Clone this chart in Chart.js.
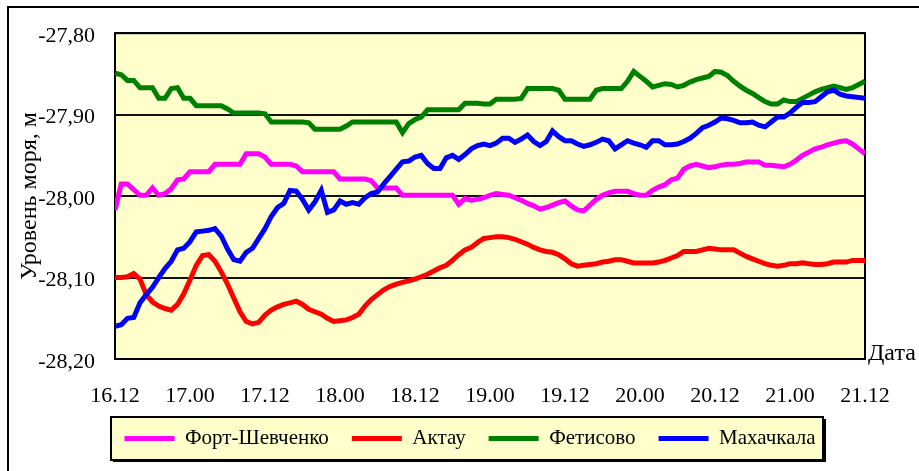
<!DOCTYPE html>
<html><head><meta charset="utf-8">
<script src="https://cdn.jsdelivr.net/npm/chart.js@4.4.1/dist/chart.umd.min.js"></script>
<style>html,body{margin:0;padding:0;background:#fff;font-family:"Liberation Serif",serif}canvas{display:block}</style>
</head><body>
<canvas id="c" width="919" height="471"></canvas>
<script>
// Hourly sea level, from 16.12 (16th, 12:00) to 21.12 (21st, 12:00)
const xTickLabels = ['16.12','17.00','17.12','18.00','18.12','19.00','19.12','20.00','20.12','21.00','21.12'];
const seriesNames = ['Форт-Шевченко','Актау','Фетисово','Махачкала'];
const seriesColors = ['#FF00FF','#FF0000','#008000','#0000FF'];

const fortShevchenko = [
-28.017,-27.985,-27.985,-27.992,-27.999,-27.999,-27.990,-27.999,-27.997,-27.991,
-27.980,-27.979,-27.970,-27.970,-27.970,-27.970,-27.961,-27.961,-27.961,-27.961,
-27.961,-27.948,-27.948,-27.948,-27.952,-27.961,-27.961,-27.961,-27.961,-27.963,
-27.970,-27.970,-27.970,-27.970,-27.970,-27.970,-27.979,-27.979,-27.979,-27.979,
-27.979,-27.981,-27.990,-27.990,-27.990,-27.990,-27.999,-27.999,-27.999,-27.999,
-27.999,-27.999,-27.999,-27.999,-27.999,-28.010,-28.003,-28.005,-28.004,-28.002,
-27.999,-27.997,-27.998,-27.999,-28.002,-28.005,-28.009,-28.012,-28.016,-28.014,
-28.011,-28.008,-28.006,-28.012,-28.017,-28.018,-28.011,-28.004,-27.999,-27.996,
-27.994,-27.994,-27.994,-27.997,-27.999,-27.999,-27.993,-27.989,-27.986,-27.980,
-27.978,-27.967,-27.963,-27.961,-27.963,-27.965,-27.964,-27.962,-27.961,-27.961,
-27.960,-27.958,-27.958,-27.958,-27.962,-27.962,-27.963,-27.964,-27.961,-27.956,
-27.950,-27.946,-27.942,-27.940,-27.937,-27.935,-27.933,-27.932,-27.936,-27.942,
-27.948];

const aktau = [
-28.100,-28.100,-28.099,-28.095,-28.102,-28.121,-28.130,-28.135,-28.138,-28.140,
-28.133,-28.120,-28.103,-28.085,-28.073,-28.072,-28.080,-28.093,-28.108,-28.125,
-28.142,-28.154,-28.157,-28.155,-28.146,-28.140,-28.136,-28.133,-28.131,-28.129,
-28.133,-28.139,-28.142,-28.145,-28.150,-28.154,-28.153,-28.152,-28.149,-28.145,
-28.135,-28.127,-28.121,-28.115,-28.111,-28.108,-28.106,-28.104,-28.102,-28.099,
-28.096,-28.092,-28.088,-28.085,-28.079,-28.072,-28.066,-28.063,-28.057,-28.052,
-28.051,-28.050,-28.050,-28.051,-28.053,-28.056,-28.059,-28.063,-28.066,-28.068,
-28.069,-28.072,-28.077,-28.083,-28.086,-28.085,-28.084,-28.083,-28.081,-28.080,
-28.078,-28.078,-28.080,-28.082,-28.082,-28.082,-28.082,-28.081,-28.079,-28.076,
-28.073,-28.068,-28.068,-28.068,-28.066,-28.064,-28.065,-28.066,-28.066,-28.066,
-28.070,-28.074,-28.077,-28.080,-28.083,-28.085,-28.086,-28.085,-28.083,-28.083,
-28.082,-28.083,-28.084,-28.084,-28.083,-28.081,-28.081,-28.081,-28.079,-28.079,
-28.079];

const fetisovo = [
-27.849,-27.851,-27.858,-27.858,-27.867,-27.867,-27.867,-27.880,-27.880,-27.868,
-27.867,-27.880,-27.880,-27.889,-27.889,-27.889,-27.889,-27.889,-27.893,-27.898,
-27.898,-27.898,-27.898,-27.898,-27.899,-27.909,-27.909,-27.909,-27.909,-27.909,
-27.909,-27.910,-27.918,-27.918,-27.918,-27.918,-27.918,-27.914,-27.909,-27.909,
-27.909,-27.909,-27.909,-27.909,-27.909,-27.909,-27.922,-27.911,-27.906,-27.903,
-27.894,-27.894,-27.894,-27.894,-27.894,-27.894,-27.886,-27.886,-27.886,-27.887,
-27.887,-27.881,-27.881,-27.881,-27.881,-27.880,-27.868,-27.868,-27.868,-27.868,
-27.868,-27.870,-27.881,-27.881,-27.881,-27.881,-27.881,-27.870,-27.868,-27.868,
-27.868,-27.868,-27.859,-27.847,-27.853,-27.859,-27.866,-27.864,-27.862,-27.863,
-27.866,-27.864,-27.860,-27.857,-27.855,-27.853,-27.847,-27.848,-27.852,-27.859,
-27.865,-27.870,-27.874,-27.879,-27.884,-27.887,-27.887,-27.882,-27.884,-27.884,
-27.880,-27.876,-27.872,-27.869,-27.867,-27.865,-27.867,-27.869,-27.867,-27.863,
-27.859];

const makhachkala = [
-28.160,-28.158,-28.150,-28.149,-28.131,-28.121,-28.112,-28.100,-28.089,-28.080,
-28.066,-28.064,-28.056,-28.044,-28.043,-28.042,-28.040,-28.049,-28.065,-28.078,
-28.080,-28.069,-28.064,-28.052,-28.040,-28.025,-28.014,-28.009,-27.993,-27.994,
-28.004,-28.017,-28.007,-27.993,-28.020,-28.017,-28.006,-28.010,-28.008,-28.010,
-28.002,-27.997,-27.995,-27.985,-27.976,-27.967,-27.958,-27.957,-27.952,-27.950,
-27.960,-27.966,-27.966,-27.953,-27.950,-27.955,-27.949,-27.942,-27.938,-27.936,
-27.938,-27.935,-27.929,-27.929,-27.934,-27.930,-27.925,-27.933,-27.938,-27.933,
-27.920,-27.927,-27.932,-27.932,-27.936,-27.939,-27.937,-27.934,-27.930,-27.932,
-27.942,-27.937,-27.932,-27.935,-27.937,-27.940,-27.932,-27.932,-27.937,-27.937,
-27.936,-27.933,-27.929,-27.923,-27.916,-27.913,-27.909,-27.904,-27.905,-27.907,
-27.910,-27.910,-27.909,-27.913,-27.915,-27.909,-27.903,-27.903,-27.898,-27.891,
-27.885,-27.885,-27.884,-27.878,-27.872,-27.870,-27.875,-27.877,-27.878,-27.879,
-27.880];

const allSeries = [fortShevchenko, aktau, fetisovo, makhachkala];
const FONT = "'Liberation Serif', 'Times New Roman', Times, serif";

const decor = {
  id: 'decor',
  beforeDraw(chart) {
    const ctx = chart.ctx, a = chart.chartArea;
    ctx.save();
    ctx.strokeStyle = '#000'; ctx.lineWidth = 2;
    ctx.beginPath(); ctx.moveTo(8, 471); ctx.lineTo(8, 7); ctx.lineTo(919, 7); ctx.stroke();
    ctx.fillStyle = '#FFFFCC';
    ctx.fillRect(a.left, a.top, a.right - a.left, a.bottom - a.top);
    ctx.fillStyle = '#FFFFCC'; ctx.fillRect(110, 416, 714, 45);
    ctx.strokeStyle = '#000'; ctx.lineWidth = 2; ctx.strokeRect(111, 417, 712, 43);
    ctx.fillStyle = '#000'; ctx.fillRect(113, 460, 713, 2); ctx.fillRect(824, 419, 2, 43);
    ctx.restore();
    const lg = chart.legend;
    if (lg) { const h = lg.height; lg.left = 64; lg.right = 876; lg.top = 405; lg.bottom = 405 + h; }
  },
  beforeDatasetsDraw(chart) {
    const ctx = chart.ctx, a = chart.chartArea;
    ctx.save();
    ctx.strokeStyle = '#000'; ctx.lineWidth = 2;
    ctx.strokeRect(a.left, a.top, a.right - a.left, a.bottom - a.top);
    ctx.restore();
  },
  afterDraw(chart) {
    const ctx = chart.ctx, a = chart.chartArea;
    ctx.save();
    ctx.fillStyle = '#000';
    ctx.font = '24px ' + FONT;
    ctx.textAlign = 'left'; ctx.textBaseline = 'alphabetic';
    ctx.fillText('Дата', a.right + 3, a.bottom + 1);
    ctx.restore();
  }
};

function build() {
  Chart.defaults.font.family = FONT;
  Chart.defaults.color = '#000';
  new Chart(document.getElementById('c'), {
    type: 'line',
    data: {
      datasets: allSeries.map((s, k) => ({
        label: seriesNames[k],
        data: s.map((v, i) => ({ x: i, y: v })),
        borderColor: seriesColors[k],
        backgroundColor: seriesColors[k],
        borderWidth: 5,
        pointRadius: 0,
        tension: 0,
        fill: false,
        order: 4 - k
      }))
    },
    options: {
      responsive: false,
      devicePixelRatio: 1,
      animation: false,
      layout: { padding: { left: 10, right: 54, top: 31, bottom: 8 } },
      plugins: {
        tooltip: { enabled: false },
        legend: {
          position: 'bottom',
          labels: {
            boxWidth: 50, boxHeight: 5, padding: 23,
            font: { size: 21, family: FONT }, color: '#000',
            sort: (a, b) => a.datasetIndex - b.datasetIndex,
            generateLabels: (chart) => {
              const items = Chart.defaults.plugins.legend.labels.generateLabels(chart);
              items.forEach(it => { it.lineWidth = 0; it.fillStyle = seriesColors[it.datasetIndex]; });
              return items;
            }
          }
        }
      },
      scales: {
        x: {
          type: 'linear', min: 0, max: 120,
          grid: { display: false, drawTicks: false },
          border: { display: false },
          afterFit: (s) => { s.height = 50; },
          ticks: {
            stepSize: 12, autoSkip: false, maxRotation: 0, padding: 24,
            font: { size: 22, family: FONT }, color: '#000',
            callback: (v) => xTickLabels[Math.round(v / 12)]
          }
        },
        y: {
          min: -28.2, max: -27.8,
          grid: { color: '#111', lineWidth: 2, drawTicks: false },
          border: { display: false },
          afterFit: (s) => { s.width = 105; },
          title: { display: true, text: 'Уровень моря, м', font: { size: 24, family: FONT }, color: '#000', padding: { top: 5, bottom: 0 } },
          ticks: {
            stepSize: 0.1, padding: 20, labelOffset: 3,
            font: { size: 22, family: FONT }, color: '#000',
            callback: (v) => Number(v).toFixed(2).replace('.', ',')
          }
        }
      }
    },
    plugins: [decor]
  });
}

const loads = ['20px', '21px', '22px', '24px'].map(s => document.fonts.load(s + " 'Liberation Serif'", 'АбвДата0123'));
let built = false;
function go() { if (!built) { built = true; build(); } }
Promise.all(loads).then(go, go);
setTimeout(go, 1500);
</script>
</body></html>
